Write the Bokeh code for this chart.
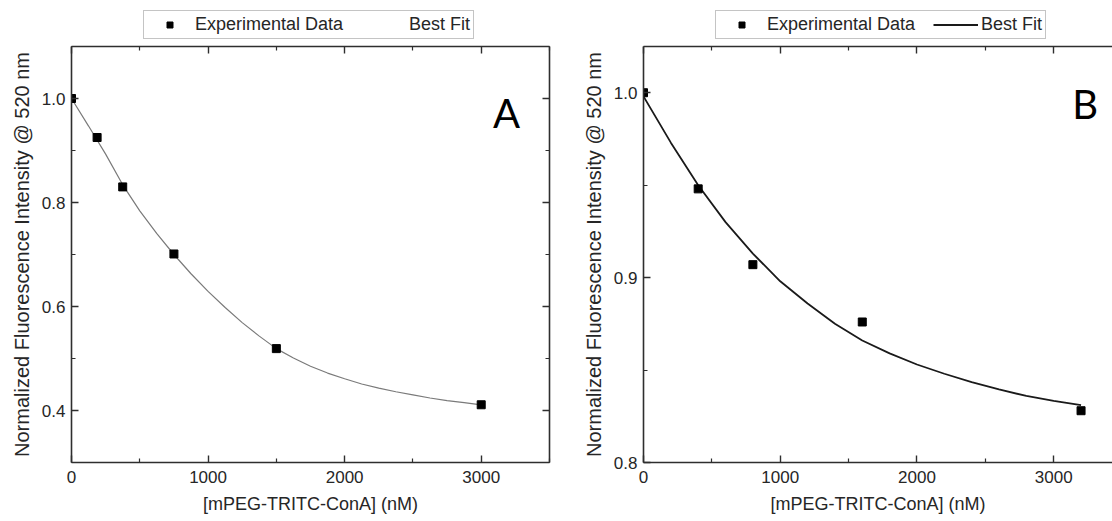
from bokeh.plotting import figure
from bokeh.layouts import row, column
from bokeh.models import (ColumnDataSource, FixedTicker, LinearAxis, Legend, LegendItem,
                          Label, Range1d, NumeralTickFormatter, CustomJSTickFormatter)
from bokeh.embed import file_html
from bokeh.resources import INLINE

# ---------------- data ----------------
# Panel A
a_conc = [0, 187.5, 375, 750, 1500, 3000]
a_intensity = [1.000, 0.925, 0.830, 0.701, 0.519, 0.411]
a_fit_conc = [0, 125, 250, 375, 500, 625, 750, 875, 1000, 1125, 1250, 1375, 1500,
              1625, 1750, 1875, 2000, 2125, 2250, 2375, 2500, 2625, 2750, 2875, 3000]
a_fit_intensity = [1.000, 0.947, 0.893, 0.834, 0.784, 0.740, 0.700, 0.663, 0.629, 0.598, 0.569, 0.543, 0.519,
                   0.501, 0.485, 0.472, 0.461, 0.451, 0.443, 0.436, 0.430, 0.424, 0.419, 0.415, 0.411]

# Panel B
b_conc = [0, 400, 800, 1600, 3200]
b_intensity = [1.000, 0.948, 0.907, 0.876, 0.828]
b_fit_conc = [0, 200, 400, 600, 800, 1000, 1200, 1400, 1600, 1800, 2000, 2200, 2400, 2600, 2800, 3000, 3200]
b_fit_intensity = [0.998, 0.973, 0.950, 0.930, 0.913, 0.898, 0.886, 0.875, 0.866, 0.859, 0.853,
                   0.848, 0.8435, 0.8395, 0.836, 0.8333, 0.831]

x_ticks = [0, 1000, 2000, 3000]
x_minor_ticks = [500, 1500, 2500, 3500]
a_y_ticks = [0.4, 0.6, 0.8, 1.0]
a_y_minor_ticks = [0.3, 0.5, 0.7, 0.9, 1.1]
b_y_ticks = [0.8, 0.9, 1.0]
b_y_minor_ticks = [0.85, 0.95]

x_title = "[mPEG-TRITC-ConA] (nM)"
y_title = "Normalized Fluorescence Intensity @ 520 nm"
legend_labels = ["Experimental Data", "Best Fit"]
panel_letters = ["A", "B"]

# ---------------- style ----------------
FONT = "Liberation Sans"
TXT = "#262626"
AX = "#2e2e2e"
W = 556
H = 521
TOP_H = 40          # strip holding the legend above each panel


def style_axis(ax, ticks, minor, fmt=None, show_labels=True, standoff=7):
    ax.ticker = FixedTicker(ticks=ticks, minor_ticks=minor)
    ax.major_tick_in = 7
    ax.major_tick_out = 0
    ax.minor_tick_in = 4
    ax.minor_tick_out = 0
    ax.axis_line_color = AX
    ax.axis_line_width = 1.6
    ax.major_tick_line_color = AX
    ax.major_tick_line_width = 1.4
    ax.minor_tick_line_color = AX
    ax.minor_tick_line_width = 1.2
    ax.major_label_text_font = FONT
    ax.major_label_text_font_size = "17px"
    ax.major_label_text_color = TXT
    ax.major_label_standoff = standoff
    if fmt is not None:
        ax.formatter = fmt
    if not show_labels:
        ax.formatter = CustomJSTickFormatter(code="return ''")
        ax.major_label_text_font_size = "0px"
        ax.major_label_standoff = 0


def make_legend_strip(conc, inten, fit_x, fit_y, x_end, fit_color, fit_width, fit_alpha):
    # the series are kept outside this strip's y range: only their legend glyphs show
    s = figure(width=W, height=TOP_H, x_range=Range1d(0, x_end), y_range=Range1d(5, 6),
               output_backend="svg", toolbar_location=None,
               min_border_left=0, min_border_right=0, min_border_top=0, min_border_bottom=0)
    s.axis.visible = False
    s.grid.visible = False
    s.outline_line_color = None
    s.background_fill_color = "white"
    s.border_fill_color = "white"
    r_pts = s.scatter(x=conc, y=inten, marker="square", size=7, fill_color="black", line_color="black")
    r_fit = s.line(x=fit_x, y=fit_y, line_color=fit_color, line_width=fit_width, line_alpha=fit_alpha)
    legend = Legend(items=[LegendItem(label=legend_labels[0], renderers=[r_pts]),
                           LegendItem(label=legend_labels[1], renderers=[r_fit])],
                    location=(72, 1), orientation="horizontal", margin=0)
    legend.label_text_font = FONT
    legend.label_text_font_size = "18px"
    legend.label_text_color = TXT
    legend.glyph_width = 45
    legend.glyph_height = 15
    legend.label_height = 15
    legend.label_standoff = 3
    legend.spacing = 18
    legend.padding = 3
    legend.border_line_color = "#8a8a8a"
    legend.border_line_width = 1
    legend.background_fill_color = "white"
    legend.background_fill_alpha = 1
    s.add_layout(legend)
    return s


def make_panel(conc, inten, fit_x, fit_y, y_lo, y_hi, yt, ymt, x_end, border_left, border_right,
               fit_color, fit_width, letter, letter_x, letter_y, right_axis):
    p = figure(width=W, height=H - TOP_H, x_range=Range1d(0, x_end), y_range=Range1d(y_lo, y_hi),
               output_backend="svg", toolbar_location=None,
               min_border_left=border_left, min_border_right=border_right,
               min_border_top=46 - TOP_H, min_border_bottom=59)
    p.background_fill_color = "white"
    p.border_fill_color = "white"
    p.outline_line_color = None
    p.grid.visible = False

    # bottom axis
    xa = p.xaxis[0]
    style_axis(xa, x_ticks, x_minor_ticks, NumeralTickFormatter(format="0"), standoff=8)
    xa.axis_label = x_title
    xa.axis_label_text_font = FONT
    xa.axis_label_text_font_size = "18px"
    xa.axis_label_text_font_style = "normal"
    xa.axis_label_text_color = TXT
    xa.axis_label_standoff = 8

    # left axis
    ya = p.yaxis[0]
    style_axis(ya, yt, ymt, NumeralTickFormatter(format="0.0"), standoff=6)
    ya.axis_label = y_title
    ya.axis_label_text_font = FONT
    ya.axis_label_text_font_size = "20px"
    ya.axis_label_text_font_style = "normal"
    ya.axis_label_text_color = TXT
    ya.axis_label_standoff = 6

    # mirrored top / right axes (ticks only)
    top = LinearAxis()
    style_axis(top, x_ticks, x_minor_ticks, show_labels=False)
    p.add_layout(top, "above")
    if right_axis:
        rgt = LinearAxis()
        style_axis(rgt, yt, ymt, show_labels=False)
        p.add_layout(rgt, "right")

    src_pts = ColumnDataSource(data=dict(x=conc, y=inten))
    src_fit = ColumnDataSource(data=dict(x=fit_x, y=fit_y))
    p.line(x="x", y="y", source=src_fit, line_color=fit_color, line_width=fit_width)
    p.scatter(x="x", y="y", source=src_pts, marker="square", size=8,
              fill_color="black", line_color="black")

    p.add_layout(Label(x=letter_x, y=letter_y, text=letter, text_font="Lato",
                       text_font_size="40px", text_color="black", text_baseline="alphabetic"))
    return p


pA = make_panel(a_conc, a_intensity, a_fit_conc, a_fit_intensity, 0.3, 1.1, a_y_ticks, a_y_minor_ticks,
                3500, 71, 7, "#7a7a7a", 1.2, panel_letters[0], 3087, 0.9725, True)
pB = make_panel(b_conc, b_intensity, b_fit_conc, b_fit_intensity, 0.8, 1.025, b_y_ticks, b_y_minor_ticks,
                3430, 87, 0, "#1a1a1a", 1.8, panel_letters[1], 3135, 0.994, False)
lA = make_legend_strip(a_conc, a_intensity, a_fit_conc, a_fit_intensity, 3500, "#7a7a7a", 1.2, 0.0)
lB = make_legend_strip(b_conc, b_intensity, b_fit_conc, b_fit_intensity, 3430, "#1a1a1a", 1.8, 1.0)

layout = row(column(lA, pA, spacing=0), column(lB, pB, spacing=0), spacing=0)
open("out.html", "w").write(file_html(layout, INLINE))
